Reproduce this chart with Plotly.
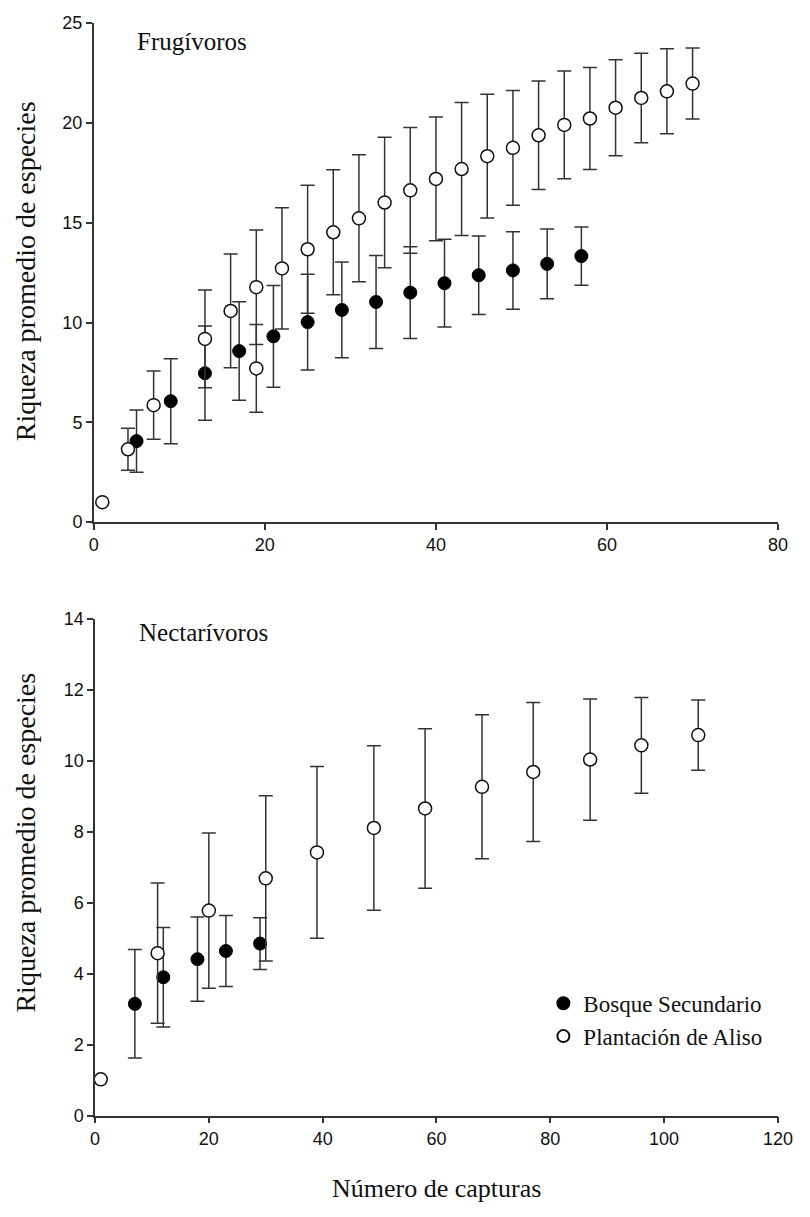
import plotly.graph_objects as go

# ---- Data: Frugívoros (top panel) ----
frug_bosque_x = [5, 9, 13, 17, 21, 25, 29, 33, 37, 41, 45, 49, 53, 57]
frug_bosque_y = [4.06, 6.06, 7.46, 8.57, 9.31, 10.02, 10.63, 11.03, 11.50, 11.97, 12.37, 12.61, 12.94, 13.33]
frug_bosque_err = [1.56, 2.13, 2.36, 2.47, 2.55, 2.40, 2.40, 2.33, 2.30, 2.20, 1.97, 1.94, 1.75, 1.46]

frug_aliso_x = [1, 4, 7, 13, 16, 19, 19, 22, 25, 28, 31, 34, 37, 40, 43, 46, 49, 52, 55, 58, 61, 64, 67, 70]
frug_aliso_y = [1.0, 3.65, 5.86, 9.18, 10.58, 11.77, 7.70, 12.71, 13.67, 14.52, 15.22, 16.01, 16.62, 17.19,
                17.69, 18.33, 18.75, 19.38, 19.90, 20.22, 20.76, 21.25, 21.58, 21.97]
frug_aliso_err = [None, 1.05, 1.71, 2.45, 2.85, 2.87, 2.20, 3.04, 3.20, 3.13, 3.18, 3.27, 3.15, 3.10,
                  3.33, 3.10, 2.87, 2.72, 2.70, 2.55, 2.40, 2.24, 2.13, 1.78]

# ---- Data: Nectarívoros (bottom panel) ----
nect_bosque_x = [7, 12, 18, 23, 29]
nect_bosque_y = [3.15, 3.90, 4.41, 4.64, 4.85]
nect_bosque_err = [1.53, 1.40, 1.19, 1.00, 0.73]

nect_aliso_x = [1, 11, 20, 30, 39, 49, 58, 68, 77, 87, 96, 106]
nect_aliso_y = [1.02, 4.58, 5.78, 6.69, 7.42, 8.11, 8.66, 9.27, 9.69, 10.04, 10.44, 10.73]
nect_aliso_err = [None, 1.98, 2.19, 2.33, 2.42, 2.32, 2.25, 2.03, 1.96, 1.71, 1.35, 0.99]

# ---- Labels ----
series_names = ["Bosque Secundario", "Plantación de Aliso"]
panel_titles = ["Frugívoros", "Nectarívoros"]
y_title = "Riqueza promedio de especies"
x_title = "Número de capturas"
top_xticks = [0, 20, 40, 60, 80]
top_yticks = [0, 5, 10, 15, 20, 25]
bot_xticks = [0, 20, 40, 60, 80, 100, 120]
bot_yticks = [0, 2, 4, 6, 8, 10, 12, 14]

W, H = 810, 1217
SERIF = "Liberation Serif, Times New Roman, serif"
SANS = "Liberation Sans Narrow, Arial Narrow, Liberation Sans, Arial, sans-serif"
AX = "#333333"
INK = "#111111"

def err(vals):
    return dict(type="data", array=vals, visible=True, color=AX, thickness=1.5, width=7)

filled = dict(symbol="circle", size=13, color="black", line=dict(color="black", width=1))
hollow = dict(symbol="circle", size=13, color="white", line=dict(color=INK, width=1.5))

fig = go.Figure()
fig.add_trace(go.Scatter(x=frug_bosque_x, y=frug_bosque_y, mode="markers", marker=filled,
                         error_y=err(frug_bosque_err), xaxis="x", yaxis="y",
                         showlegend=False, cliponaxis=False, name=series_names[0]))
fig.add_trace(go.Scatter(x=frug_aliso_x, y=frug_aliso_y, mode="markers", marker=hollow,
                         error_y=err(frug_aliso_err), xaxis="x", yaxis="y",
                         showlegend=False, cliponaxis=False, name=series_names[1]))
fig.add_trace(go.Scatter(x=nect_bosque_x, y=nect_bosque_y, mode="markers", marker=filled,
                         error_y=err(nect_bosque_err), xaxis="x2", yaxis="y2",
                         showlegend=True, cliponaxis=False, name=series_names[0]))
fig.add_trace(go.Scatter(x=nect_aliso_x, y=nect_aliso_y, mode="markers", marker=hollow,
                         error_y=err(nect_aliso_err), xaxis="x2", yaxis="y2",
                         showlegend=True, cliponaxis=False, name=series_names[1]))

def axis(domain, rng, ticks, anchor):
    return dict(domain=domain, range=rng, tickvals=ticks, ticktext=[str(t) for t in ticks],
                anchor=anchor, showline=True, linecolor=AX, linewidth=1.5,
                ticks="outside", ticklen=6, tickwidth=1.5, tickcolor=AX,
                showgrid=False, zeroline=False, fixedrange=True,
                tickfont=dict(family=SANS, size=18, color="#111"))

top_y0, top_y1 = 520.7, 13.3
bot_y0, bot_y1 = 1124.0, 619.3

fig.update_layout(
    width=W, height=H,
    margin=dict(l=0, r=0, t=0, b=0),
    paper_bgcolor="white", plot_bgcolor="white",
    xaxis=axis([91 / W, 792.7 / W], [0, 80], top_xticks, "y"),
    yaxis=axis([1 - top_y0 / H, 1 - top_y1 / H], [0, 25], top_yticks, "x"),
    xaxis2=axis([92.3 / W, 792.5 / W], [0, 120], bot_xticks, "y2"),
    yaxis2=axis([1 - bot_y0 / H, 1 - bot_y1 / H], [0, 14], bot_yticks, "x2"),
    showlegend=True,
    legend=dict(x=552 / W, y=1 - 988 / H, xanchor="left", yanchor="top",
                font=dict(family=SERIF, size=23, color="#111"),
                bgcolor="rgba(0,0,0,0)", borderwidth=0, tracegroupgap=0,
                itemsizing="constant"),
    annotations=[
        dict(text=panel_titles[0], x=133 / W, y=1 - 32 / H, xref="paper", yref="paper",
             xanchor="left", yanchor="middle", showarrow=False,
             font=dict(family=SERIF, size=25, color="#111")),
        dict(text=panel_titles[1], x=135 / W, y=1 - 633 / H, xref="paper", yref="paper",
             xanchor="left", yanchor="middle", showarrow=False,
             font=dict(family=SERIF, size=25, color="#111")),
        dict(text=y_title, x=21 / W, y=1 - 265 / H, xref="paper", yref="paper",
             xanchor="center", yanchor="middle", showarrow=False, textangle=-90,
             font=dict(family=SERIF, size=28, color="#111")),
        dict(text=y_title, x=21 / W, y=1 - 846 / H, xref="paper", yref="paper",
             xanchor="center", yanchor="middle", showarrow=False, textangle=-90,
             font=dict(family=SERIF, size=28, color="#111")),
        dict(text=x_title, x=442 / W, y=1 - 1198 / H, xref="paper", yref="paper",
             xanchor="center", yanchor="middle", showarrow=False,
             font=dict(family=SERIF, size=26, color="#111")),
    ],
)

fig.write_html("out.html", config={"displayModeBar": False},
               post_script="document.body.style.margin='0';document.body.style.overflow='hidden';")
